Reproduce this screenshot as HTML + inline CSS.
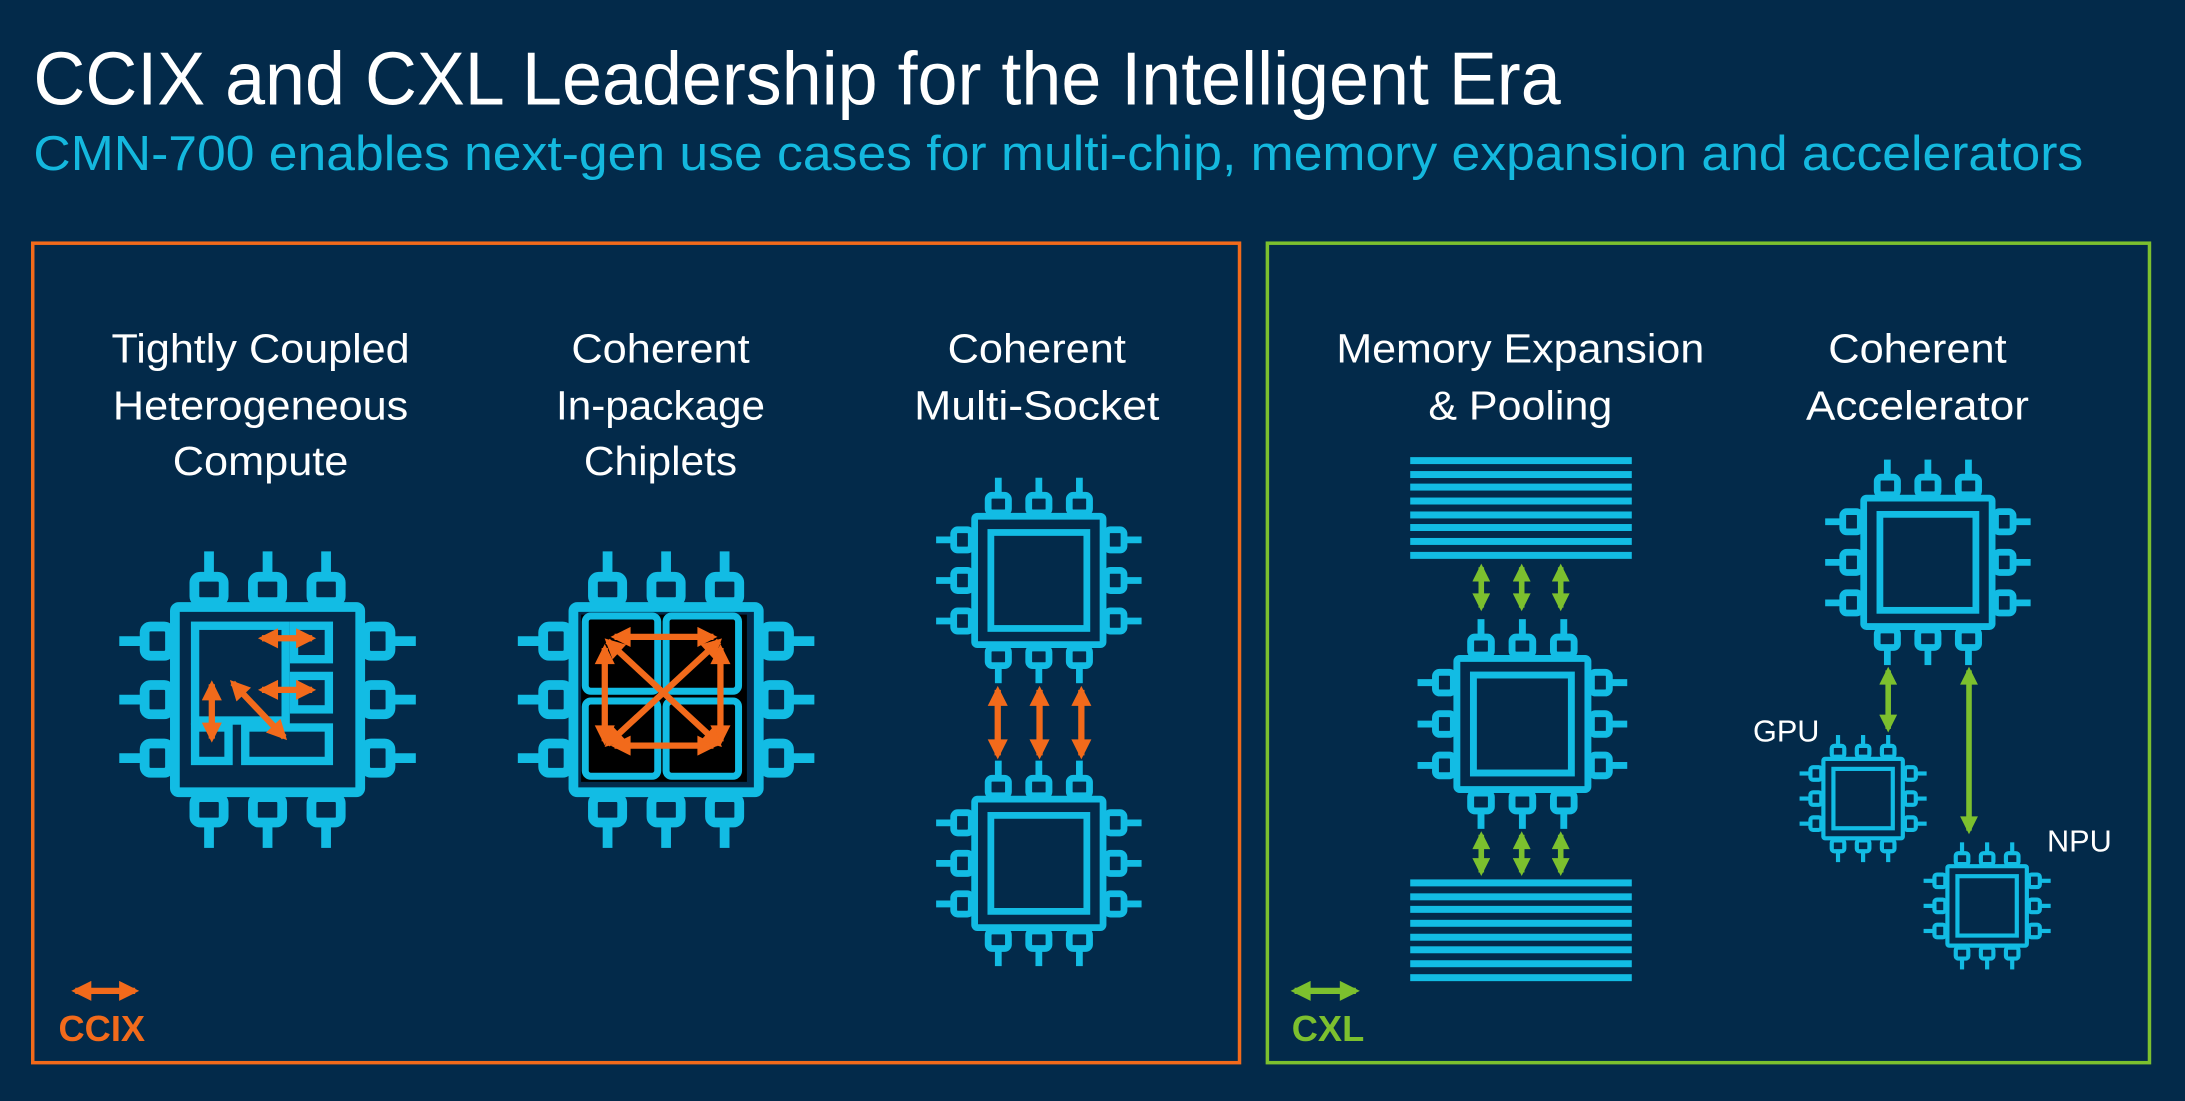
<!DOCTYPE html>
<html><head><meta charset="utf-8"><style>
html,body{margin:0;padding:0;background:#032a4a;}
svg{display:block;}
text{font-family:"Liberation Sans",sans-serif;}
</style></head><body>
<svg width="2185" height="1101" viewBox="0 0 1568 790" preserveAspectRatio="none" xmlns="http://www.w3.org/2000/svg">
<defs>
<g id="chip" fill="none" stroke="#12bce4" stroke-width="5">
  <rect x="2.5" y="2.5" width="95" height="95" rx="2"/>
  <g id="pins">
    <rect x="12.5" y="-13" width="15" height="13" rx="3"/><line x1="20" y1="-13" x2="20" y2="-26"/>
    <rect x="42.5" y="-13" width="15" height="13" rx="3"/><line x1="50" y1="-13" x2="50" y2="-26"/>
    <rect x="72.5" y="-13" width="15" height="13" rx="3"/><line x1="80" y1="-13" x2="80" y2="-26"/>
  </g>
  <use href="#pins" transform="translate(0,100) scale(1,-1)"/>
  <use href="#pins" transform="rotate(-90 50 50)"/>
  <use href="#pins" transform="rotate(90 50 50)"/>
</g>
<g id="inner" fill="none" stroke="#12bce4" stroke-width="5"><rect x="14.5" y="14.5" width="71" height="71"/></g>
<marker id="ao" viewBox="0 0 10 10" refX="8" refY="5" markerWidth="3.4" markerHeight="3.2" orient="auto-start-reverse"><path d="M0,0 L10,5 L0,10 z" fill="#f26a1b"/></marker>
<marker id="ag" viewBox="0 0 10 10" refX="8" refY="5" markerWidth="3.4" markerHeight="3.2" orient="auto-start-reverse"><path d="M0,0 L10,5 L0,10 z" fill="#7cc02e"/></marker>
</defs>
<rect width="1568" height="790" fill="#032a4a"/>

<text x="24" y="75" font-size="54" fill="#ffffff" textLength="1096" lengthAdjust="spacingAndGlyphs">CCIX and CXL Leadership for the Intelligent Era</text>
<text x="24" y="122" font-size="35" fill="#14b8de" textLength="1471" lengthAdjust="spacingAndGlyphs">CMN-700 enables next-gen use cases for multi-chip, memory expansion and accelerators</text>

<rect x="23.5" y="174.5" width="866" height="588" fill="none" stroke="#f26a1b" stroke-width="2.5"/>
<rect x="909.5" y="174.5" width="633" height="588" fill="none" stroke="#7cc02e" stroke-width="2.5"/>

<g font-size="29" fill="#ffffff" text-anchor="middle">
<text x="187" y="260" textLength="214" lengthAdjust="spacingAndGlyphs">Tightly Coupled</text><text x="187" y="301" textLength="212" lengthAdjust="spacingAndGlyphs">Heterogeneous</text><text x="187" y="341" textLength="126" lengthAdjust="spacingAndGlyphs">Compute</text>
<text x="474" y="260" textLength="128" lengthAdjust="spacingAndGlyphs">Coherent</text><text x="474" y="301" textLength="150" lengthAdjust="spacingAndGlyphs">In-package</text><text x="474" y="341" textLength="110" lengthAdjust="spacingAndGlyphs">Chiplets</text>
<text x="744" y="260" textLength="128" lengthAdjust="spacingAndGlyphs">Coherent</text><text x="744" y="301" textLength="176" lengthAdjust="spacingAndGlyphs">Multi-Socket</text>
<text x="1091" y="260" textLength="264" lengthAdjust="spacingAndGlyphs">Memory Expansion</text><text x="1091" y="301" textLength="132" lengthAdjust="spacingAndGlyphs">&amp; Pooling</text>
<text x="1376" y="260" textLength="128" lengthAdjust="spacingAndGlyphs">Coherent</text><text x="1376" y="301" textLength="160" lengthAdjust="spacingAndGlyphs">Accelerator</text>
</g>

<!-- Hetero chip -->
<use href="#chip" transform="translate(122,432) scale(1.4)"/>
<g fill="none" stroke="#12bce4" stroke-width="6">
<rect x="140" y="449" width="65" height="68"/>
<rect x="211" y="449" width="25" height="24"/>
<rect x="211" y="485" width="25" height="24"/>
<rect x="140" y="522" width="24" height="24"/>
<rect x="176" y="522" width="60" height="24"/>
</g>
<g stroke="#f26a1b" stroke-width="4.5" marker-start="url(#ao)" marker-end="url(#ao)">
<line x1="188" y1="458" x2="224" y2="458"/>
<line x1="188" y1="495" x2="224" y2="495"/>
<line x1="152" y1="491" x2="152" y2="530"/>
<line x1="167" y1="490" x2="204" y2="529"/>
</g>

<!-- Chiplets -->
<use href="#chip" transform="translate(408,432) scale(1.4)"/>
<rect x="417" y="441" width="119" height="120" fill="#000"/>
<g fill="none" stroke="#12bce4" stroke-width="5">
<rect x="420" y="442" width="52" height="54" rx="4"/>
<rect x="478" y="442" width="52" height="54" rx="4"/>
<rect x="420" y="503" width="52" height="54" rx="4"/>
<rect x="478" y="503" width="52" height="54" rx="4"/>
</g>
<g stroke="#f26a1b" stroke-width="4.5" marker-start="url(#ao)" marker-end="url(#ao)">
<line x1="441" y1="457" x2="512" y2="457"/>
<line x1="441" y1="535" x2="512" y2="535"/>
<line x1="434" y1="465" x2="434" y2="532"/>
<line x1="517" y1="465" x2="517" y2="532"/>
<line x1="436" y1="460" x2="516" y2="534"/>
<line x1="516" y1="460" x2="436" y2="534"/>
</g>

<!-- Multi-socket -->
<use href="#chip" transform="translate(697,368) scale(0.97)"/><use href="#inner" transform="translate(697,368) scale(0.97)"/>
<use href="#chip" transform="translate(697,571) scale(0.97)"/><use href="#inner" transform="translate(697,571) scale(0.97)"/>
<g stroke="#f26a1b" stroke-width="4.5" marker-start="url(#ao)" marker-end="url(#ao)">
<line x1="716" y1="495" x2="716" y2="542"/>
<line x1="746" y1="495" x2="746" y2="542"/>
<line x1="776" y1="495" x2="776" y2="542"/>
</g>

<!-- Memory -->
<g fill="#12bce4">
<rect x="1012" y="328" width="159" height="5"/><rect x="1012" y="338" width="159" height="5"/><rect x="1012" y="347" width="159" height="5"/><rect x="1012" y="357" width="159" height="5"/><rect x="1012" y="367" width="159" height="5"/><rect x="1012" y="376" width="159" height="5"/><rect x="1012" y="386" width="159" height="5"/><rect x="1012" y="396" width="159" height="5"/>
<rect x="1012" y="631" width="159" height="5"/><rect x="1012" y="641" width="159" height="5"/><rect x="1012" y="650" width="159" height="5"/><rect x="1012" y="660" width="159" height="5"/><rect x="1012" y="670" width="159" height="5"/><rect x="1012" y="679" width="159" height="5"/><rect x="1012" y="689" width="159" height="5"/><rect x="1012" y="699" width="159" height="5"/>
</g>
<use href="#chip" transform="translate(1043,470) scale(0.99)"/><use href="#inner" transform="translate(1043,470) scale(0.99)"/>
<g stroke="#7cc02e" stroke-width="4" marker-start="url(#ag)" marker-end="url(#ag)">
<line x1="1063" y1="407" x2="1063" y2="436"/><line x1="1092" y1="407" x2="1092" y2="436"/><line x1="1120" y1="407" x2="1120" y2="436"/>
<line x1="1063" y1="599" x2="1063" y2="626"/><line x1="1092" y1="599" x2="1092" y2="626"/><line x1="1120" y1="599" x2="1120" y2="626"/>
</g>

<!-- Accelerator -->
<use href="#chip" transform="translate(1335,355) scale(0.97)"/><use href="#inner" transform="translate(1335,355) scale(0.97)"/>
<use href="#chip" transform="translate(1307,543) scale(0.6)"/><use href="#inner" transform="translate(1307,543) scale(0.6)"/>
<use href="#chip" transform="translate(1396,620) scale(0.6)"/><use href="#inner" transform="translate(1396,620) scale(0.6)"/>
<g stroke="#7cc02e" stroke-width="4" marker-start="url(#ag)" marker-end="url(#ag)">
<line x1="1355" y1="481" x2="1355" y2="523"/>
<line x1="1413" y1="481" x2="1413" y2="596"/>
</g>
<text x="1258" y="532" font-size="22" fill="#fff">GPU</text>
<text x="1469" y="611" font-size="22" fill="#fff">NPU</text>

<!-- Legends -->
<line x1="54" y1="711" x2="97" y2="711" stroke="#f26a1b" stroke-width="4.5" marker-start="url(#ao)" marker-end="url(#ao)"/>
<text x="42" y="747" font-size="26" font-weight="bold" fill="#f26a1b">CCIX</text>
<line x1="929" y1="711" x2="973" y2="711" stroke="#7cc02e" stroke-width="4.5" marker-start="url(#ag)" marker-end="url(#ag)"/>
<text x="927" y="747" font-size="26" font-weight="bold" fill="#7cc02e">CXL</text>
</svg>
</body></html>
